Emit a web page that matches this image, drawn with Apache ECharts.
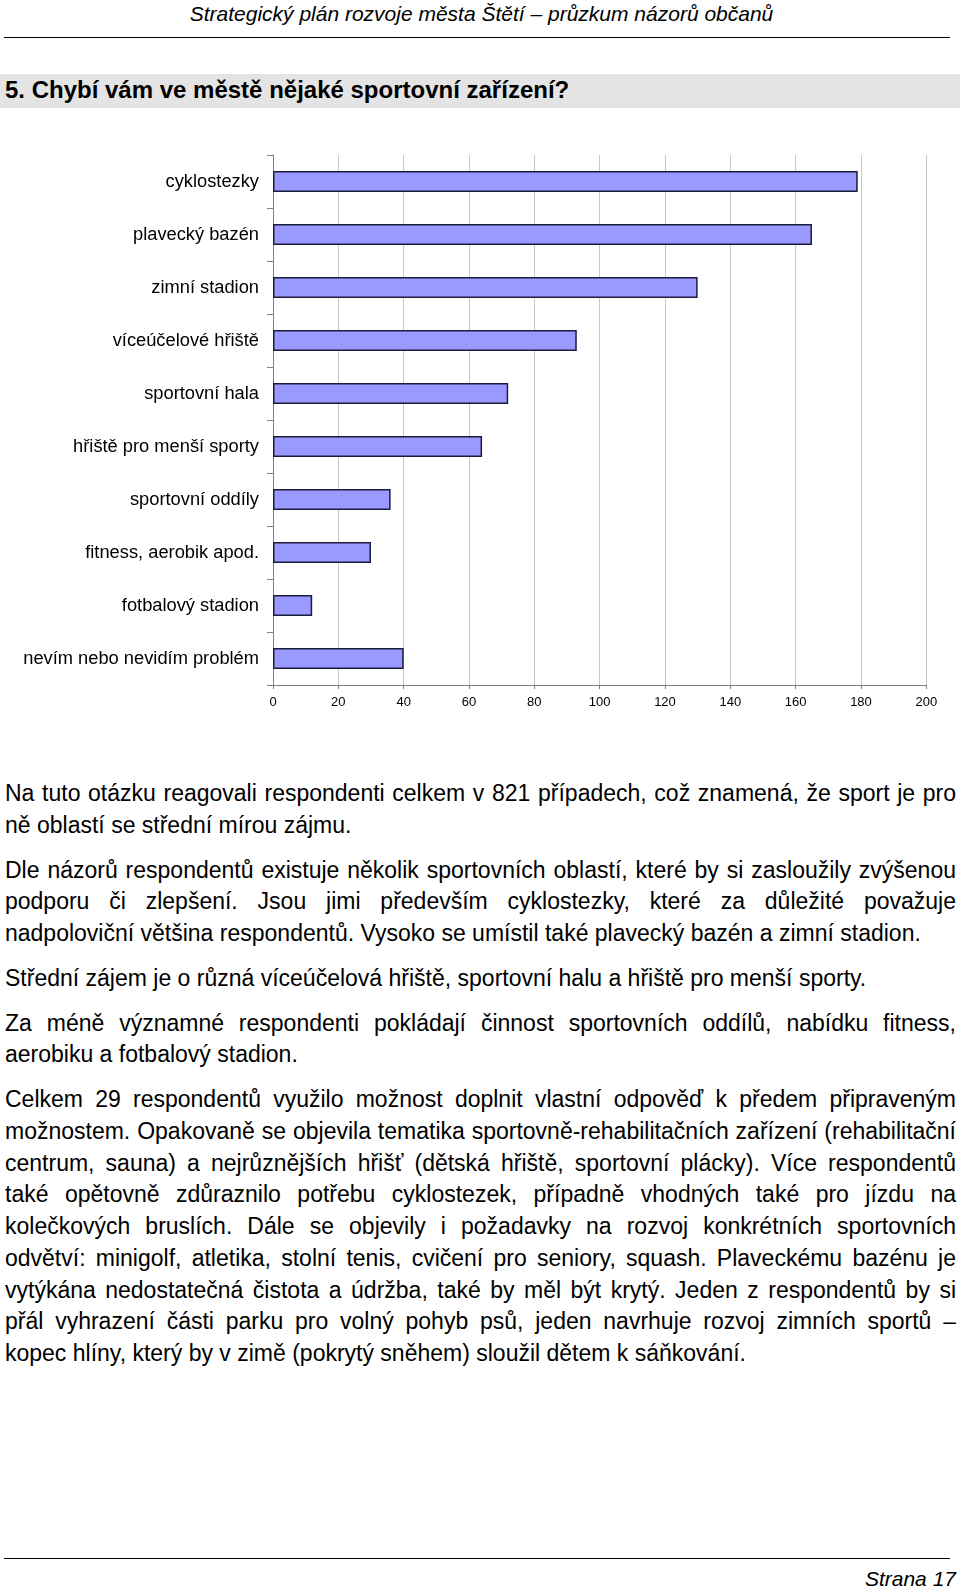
<!DOCTYPE html>
<html lang="cs">
<head>
<meta charset="utf-8">
<title>Chybí vám ve městě nějaké sportovní zařízení?</title>
<script src="https://cdn.jsdelivr.net/npm/echarts@6/dist/echarts.min.js"></script>
<style>
  html, body { margin: 0; padding: 0; background: #fff; }
  body { width: 960px; height: 1589px; position: relative; overflow: hidden;
         font-family: "Liberation Sans", Arial, sans-serif; color: #000; }
  .hdr { position: absolute; left: 3px; width: 957px; top: 0; height: 28px; line-height: 28px;
         text-align: center; font-style: italic; font-size: 21px; }
  .rule { position: absolute; left: 4px; width: 946px; height: 1px; background: #000; }
  .qbar { position: absolute; left: 0; top: 74px; width: 960px; height: 34px; background: #e4e4e4; }
  .qbar span { position: absolute; left: 5px; top: 0; line-height: 32px; font-size: 24px; font-weight: bold; }
  #chart { position: absolute; left: 0; top: 120px; width: 960px; height: 620px; }
  .txt { position: absolute; left: 5px; top: 778px; width: 951px; font-size: 23px; line-height: 31.7px; }
  .txt p { margin: 0 0 13.2px 0; }
  .txt .j { display: block; text-align: justify; text-align-last: justify; }
  .ftr { position: absolute; right: 4px; top: 1566px; line-height: 26px; font-style: italic; font-size: 21px; }
</style>
</head>
<body>
<div class="hdr">Strategický plán rozvoje města Štětí – průzkum názorů občanů</div>
<div class="rule" style="top:37px"></div>
<div class="qbar"><span>5. Chybí vám ve městě nějaké sportovní zařízení?</span></div>
<div id="chart"></div>
<div class="txt">
  <p><span class="j">Na tuto otázku reagovali respondenti celkem v 821 případech, což znamená, že sport je pro</span>ně oblastí se střední mírou zájmu.</p>
  <p><span class="j">Dle názorů respondentů existuje několik sportovních oblastí, které by si zasloužily zvýšenou</span><span class="j">podporu či zlepšení. Jsou jimi především cyklostezky, které za důležité považuje</span>nadpoloviční většina respondentů. Vysoko se umístil také plavecký bazén a zimní stadion.</p>
  <p>Střední zájem je o různá víceúčelová hřiště, sportovní halu a hřiště pro menší sporty.</p>
  <p><span class="j">Za méně významné respondenti pokládají činnost sportovních oddílů, nabídku fitness,</span>aerobiku a fotbalový stadion.</p>
  <p><span class="j">Celkem 29 respondentů využilo možnost doplnit vlastní odpověď k předem připraveným</span><span class="j">možnostem. Opakovaně se objevila tematika sportovně-rehabilitačních zařízení (rehabilitační</span><span class="j">centrum, sauna) a nejrůznějších hřišť (dětská hřiště, sportovní plácky). Více respondentů</span><span class="j">také opětovně zdůraznilo potřebu cyklostezek, případně vhodných také pro jízdu na</span><span class="j">kolečkových bruslích. Dále se objevily i požadavky na rozvoj konkrétních sportovních</span><span class="j">odvětví: minigolf, atletika, stolní tenis, cvičení pro seniory, squash. Plaveckému bazénu je</span><span class="j">vytýkána nedostatečná čistota a údržba, také by měl být krytý. Jeden z respondentů by si</span><span class="j">přál vyhrazení části parku pro volný pohyb psů, jeden navrhuje rozvoj zimních sportů –</span>kopec hlíny, který by v zimě (pokrytý sněhem) sloužil dětem k sáňkování.</p>
</div>
<div class="rule" style="top:1558px"></div>
<div class="ftr">Strana 17</div>

<script>
// odpovědi (počet respondentů)
const categories = [
  'cyklostezky',
  'plavecký bazén',
  'zimní stadion',
  'víceúčelové hřiště',
  'sportovní hala',
  'hřiště pro menší sporty',
  'sportovní oddíly',
  'fitness, aerobik apod.',
  'fotbalový stadion',
  'nevím nebo nevidím problém'
];
const counts = [179, 165, 130, 93, 72, 64, 36, 30, 12, 40];

// osa x
const axisMin = 0;
const axisMax = 200;
const axisStep = 20;

const font = 'Liberation Sans, Arial, sans-serif';

const chart = echarts.init(document.getElementById('chart'), null, { renderer: 'canvas' });
chart.setOption({
  animation: false,
  grid: { left: 273, right: 33.7, top: 35, bottom: 55 },
  xAxis: {
    type: 'value',
    min: axisMin,
    max: axisMax,
    interval: axisStep,
    axisLine: { show: true, lineStyle: { color: '#808080', width: 1 } },
    axisTick: { show: true, length: 4, lineStyle: { color: '#808080' } },
    splitLine: { show: true, lineStyle: { color: '#c8c8c8', width: 1 } },
    axisLabel: { color: '#000', fontSize: 13, fontFamily: font, margin: 11 }
  },
  yAxis: {
    type: 'category',
    data: categories,
    inverse: true,
    axisLine: { show: true, lineStyle: { color: '#808080', width: 1 } },
    axisTick: { show: true, length: 6, alignWithLabel: false, lineStyle: { color: '#808080' } },
    axisLabel: { color: '#000', fontSize: 18.3, fontFamily: font, margin: 14 }
  },
  series: [{
    type: 'bar',
    data: counts,
    barWidth: 21,
    silent: true,
    itemStyle: { color: '#9999ff', borderColor: '#1c1c3c', borderWidth: 1.5 }
  }]
});
</script>
</body>
</html>
